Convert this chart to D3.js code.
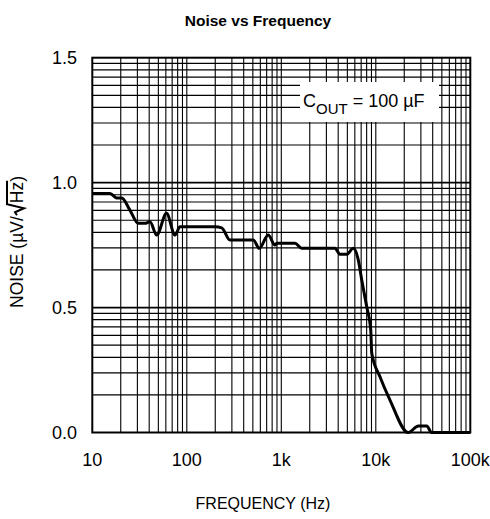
<!DOCTYPE html>
<html>
<head>
<meta charset="utf-8">
<script src="https://cdn.jsdelivr.net/npm/d3@7"></script>
<style>
  body { margin: 0; background: #fff; }
  svg { font-family: "Liberation Sans", Arial, sans-serif; }
</style>
</head>
<body>
<svg width="490" height="519"></svg>
<script>
// values
const freq = [10, 15.4, 18.1, 20.5, 25, 30.7, 36, 40.8, 48, 61, 75, 84.7, 199, 234, 286, 506, 585, 727, 857, 900, 1396, 1644, 3700, 4180, 4920, 5780, 6530, 7100, 8020, 8840, 9060, 11070, 14130, 22080, 28200, 34600, 38900, 100000];
const noise = [0.957, 0.957, 0.939, 0.939, 0.89, 0.837, 0.837, 0.843, 0.79, 0.877, 0.79, 0.823, 0.823, 0.819, 0.77, 0.77, 0.737, 0.79, 0.75, 0.757, 0.757, 0.737, 0.737, 0.713, 0.713, 0.737, 0.69, 0.61, 0.503, 0.41, 0.317, 0.223, 0.13, 0.0, 0.026, 0.026, 0.0, 0.0];
const xTicks = [10, 100, 1000, 10000, 100000];
const xTickLabels = ["10", "100", "1k", "10k", "100k"];
const yTicks = [0, 0.5, 1.0, 1.5];

const pLeft = 92.3, pRight = 470.3, pTop = 57.7, pBottom = 432.5;

const svg = d3.select("svg");

const x = d3.scaleLog().domain([10, 100000]).range([pLeft, pRight]);
const y = d3.scaleLinear().domain([0, 1.5]).range([pBottom, pTop]);

// grid: log decades on x, and the same log pattern repeated every 0.5 on y
const xMinor = [];
for (let d = 10; d < 100000; d *= 10)
  for (let k = 2; k <= 9; k++) xMinor.push(d * k);
const yMinor = [];
for (let b = 0; b < 1.5; b += 0.5)
  for (let k = 2; k <= 9; k++) yMinor.push(b + 0.5 * Math.log10(k));

const grid = svg.append("g").attr("stroke", "#000").attr("fill", "none");
grid.selectAll("line.vx")
  .data(xMinor.concat(xTicks.slice(1, -1)))
  .join("line")
  .attr("x1", d => x(d)).attr("x2", d => x(d))
  .attr("y1", pTop).attr("y2", pBottom)
  .attr("stroke-width", 1.1);
grid.selectAll("line.hy")
  .data(yMinor)
  .join("line")
  .attr("x1", pLeft).attr("x2", pRight)
  .attr("y1", d => y(d)).attr("y2", d => y(d))
  .attr("stroke-width", 1.2);
grid.selectAll("line.hmaj")
  .data(yTicks.slice(1, -1))
  .join("line")
  .attr("x1", pLeft).attr("x2", pRight)
  .attr("y1", d => y(d)).attr("y2", d => y(d))
  .attr("stroke-width", 1.8);

// legend box
const legX = 300, legY = 82;
svg.append("rect")
  .attr("x", legX).attr("y", legY).attr("width", 139).attr("height", 40)
  .attr("fill", "#fff");
const leg = svg.append("text")
  .attr("x", legX + 3).attr("y", legY + 25)
  .attr("font-size", 18).attr("fill", "#000");
leg.append("tspan").text("C");
leg.append("tspan").attr("dy", 7).attr("font-size", 15).text("OUT");
leg.append("tspan").attr("dy", -7).text(" = 100 µF");

// frame
svg.append("rect")
  .attr("x", pLeft).attr("y", pTop)
  .attr("width", pRight - pLeft).attr("height", pBottom - pTop)
  .attr("fill", "none").attr("stroke", "#000").attr("stroke-width", 2);

// curve
const line = d3.line()
  .x((d, i) => x(freq[i]))
  .y(d => y(d))
  .curve(d3.curveMonotoneX);
svg.append("path")
  .datum(noise)
  .attr("d", line)
  .attr("fill", "none")
  .attr("stroke", "#000")
  .attr("stroke-width", 3)
  .attr("stroke-linejoin", "round");

// tick labels
svg.append("g")
  .selectAll("text")
  .data(xTicks)
  .join("text")
  .attr("x", d => x(d))
  .attr("y", 466)
  .attr("text-anchor", "middle")
  .attr("font-size", 18)
  .text((d, i) => xTickLabels[i]);

svg.append("g")
  .selectAll("text")
  .data(yTicks)
  .join("text")
  .attr("x", 77)
  .attr("y", d => y(d) + 6)
  .attr("text-anchor", "end")
  .attr("font-size", 18)
  .text(d => d3.format(".1f")(d));

// titles
svg.append("text")
  .attr("x", 258).attr("y", 26)
  .attr("text-anchor", "middle")
  .attr("font-size", 15.5).attr("font-weight", "bold")
  .text("Noise vs Frequency");

svg.append("text")
  .attr("x", 263).attr("y", 509)
  .attr("text-anchor", "middle")
  .attr("font-size", 16)
  .text("FREQUENCY (Hz)");

// y label: text, hand-drawn root sign, then Hz under its bar
const yl = svg.append("g").attr("transform", "translate(23,242) rotate(-90)");
const ylt = yl.append("text")
  .attr("text-anchor", "middle")
  .attr("font-size", 17.5);
ylt.append("tspan").text("NOISE (µV/");
ylt.append("tspan").attr("dx", 13).text("Hz");
ylt.append("tspan").text(")");
const n = ylt.node();
const r0 = n.getEndPositionOfChar(9).x;
const hzEnd = n.getEndPositionOfChar(11).x;
yl.append("path")
  .attr("d", `M${r0 + 1},-6 L${r0 + 4},-8 L${r0 + 8},1 L${r0 + 12},-16 L${hzEnd + 1},-16`)
  .attr("fill", "none")
  .attr("stroke", "#000")
  .attr("stroke-width", 2)
  .attr("stroke-linejoin", "miter");
</script>
</body>
</html>
